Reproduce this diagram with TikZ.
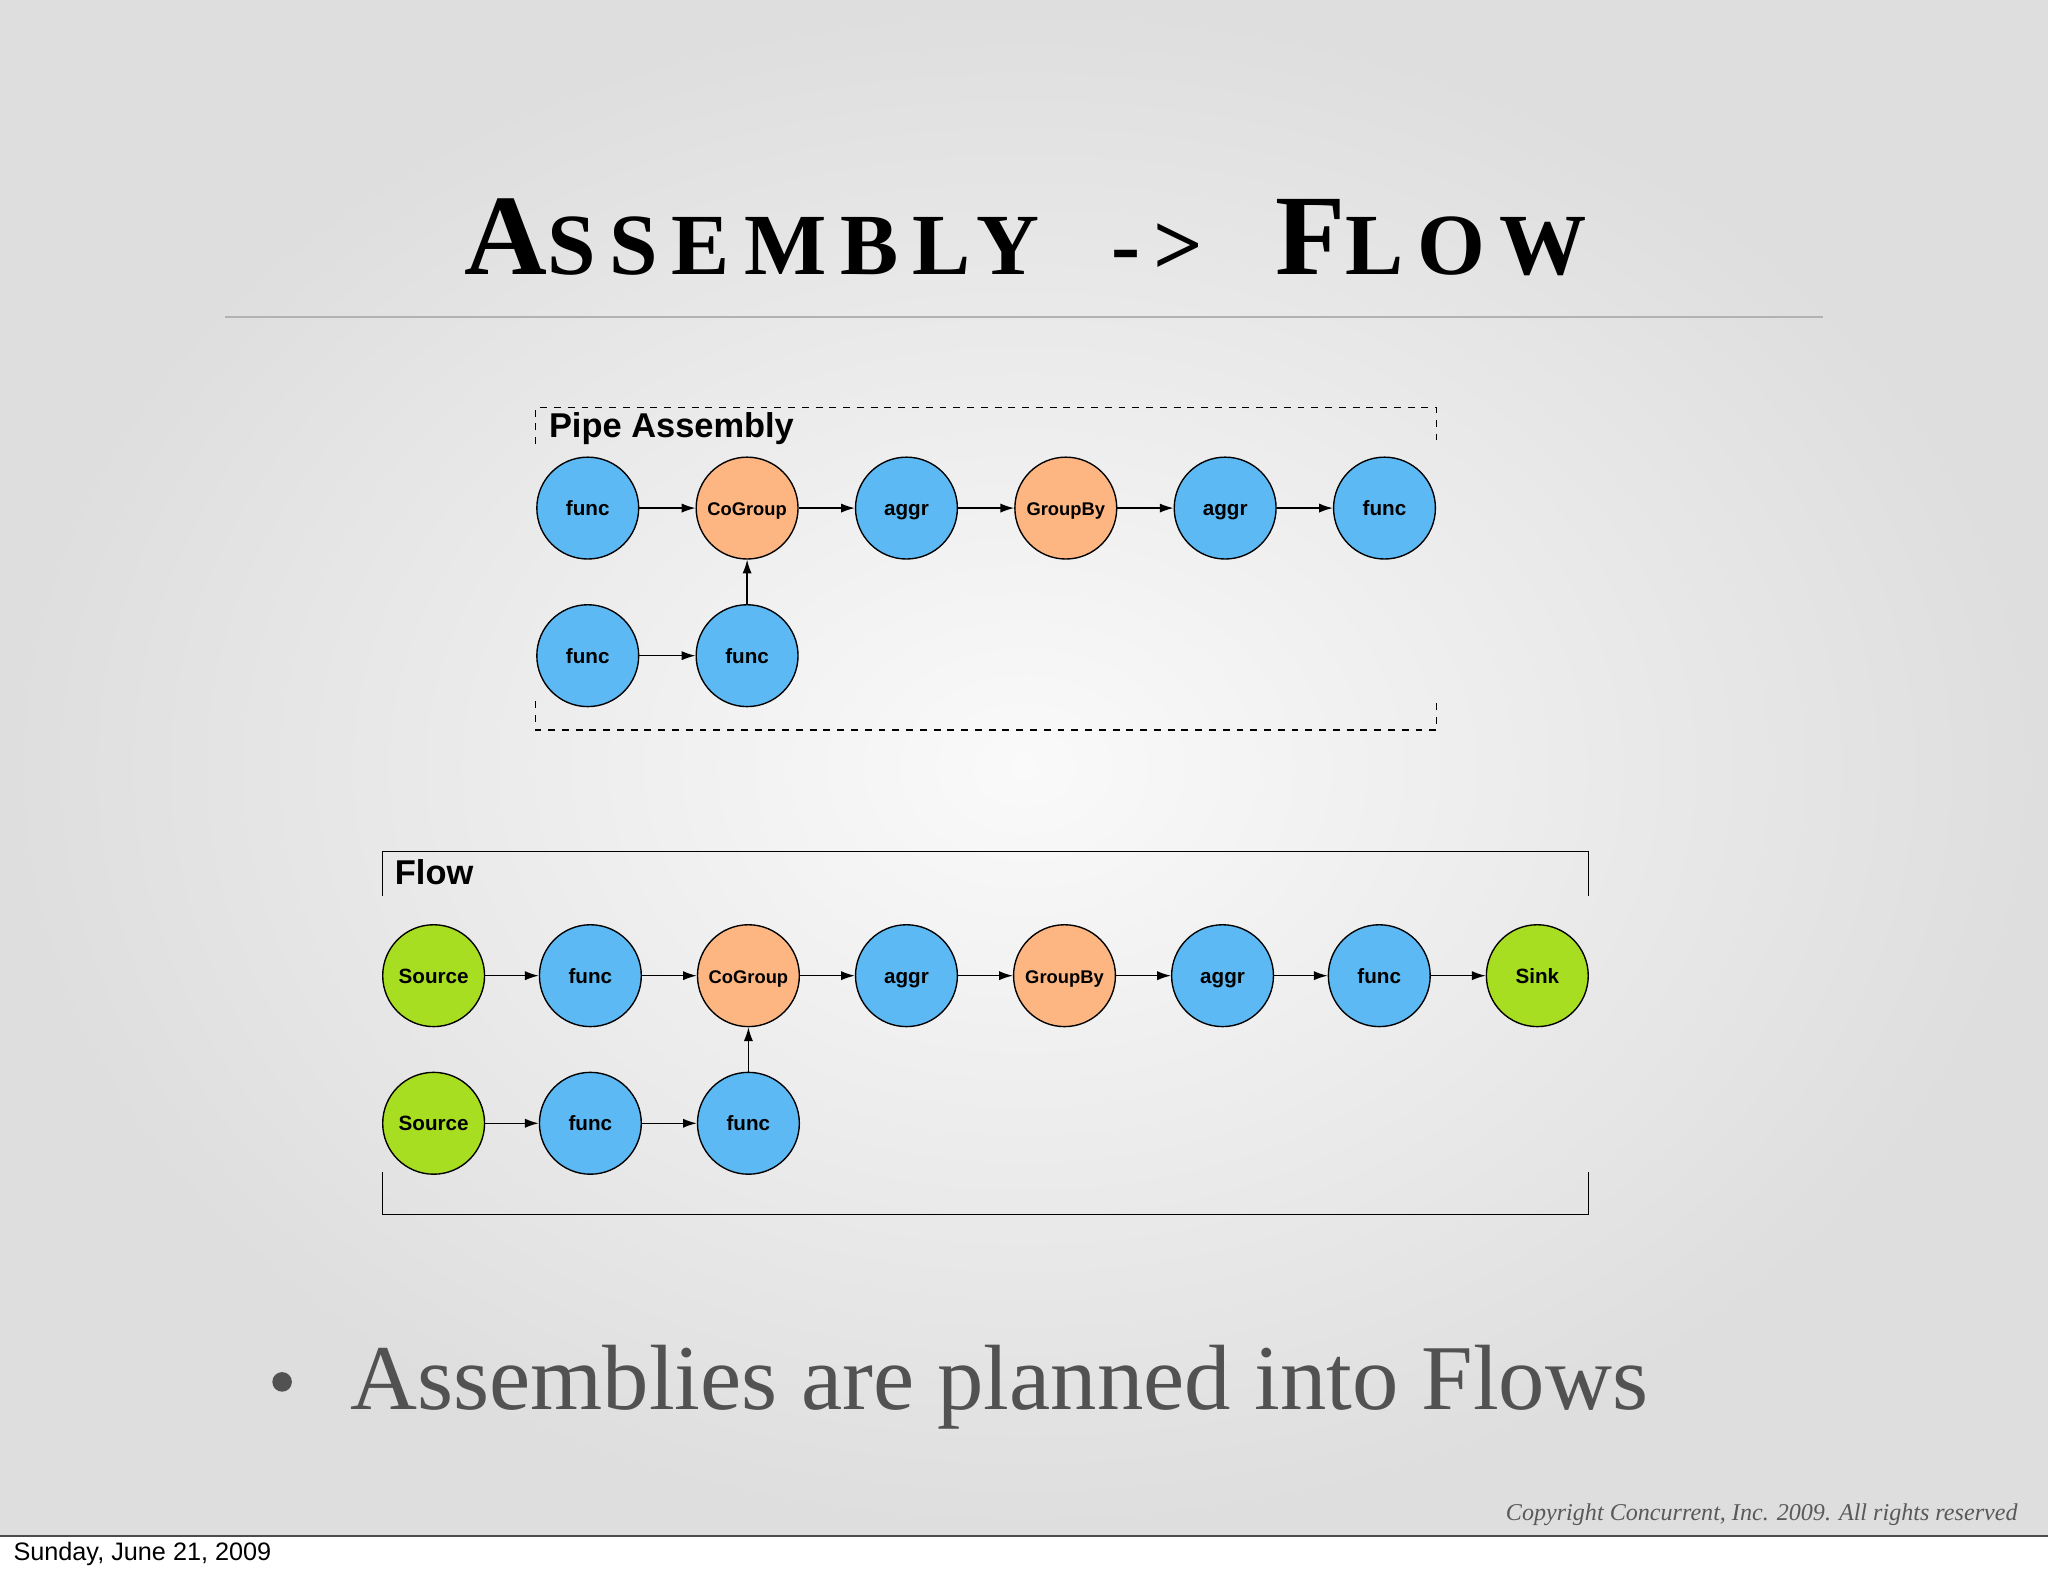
\documentclass[tikz,border=0pt]{standalone}
\usepackage{fontspec}
\setmainfont{Liberation Serif}
\setsansfont{Liberation Sans}
\usetikzlibrary{arrows.meta}
\definecolor{cblue}{HTML}{5DB9F4}
\definecolor{corange}{HTML}{FDB682}
\definecolor{cgreen}{HTML}{A8DE22}
\tikzset{x=0.02cm,y=-0.02cm,
 op/.style={circle,draw=black,line width=0.6pt,minimum size=1.56cm,inner sep=0pt,text height=1.6ex,text depth=0.2ex,font=\sffamily\bfseries\fontsize{9}{11}\selectfont},
 fn/.style={op,fill=cblue},
 gr/.style={op,fill=corange,font=\sffamily\bfseries\fontsize{8}{10}\selectfont},
 src/.style={op,fill=cgreen},
 ar/.style={-{Latex[length=6pt,width=4pt]},line width=0.6pt},
 lbl/.style={anchor=west,font=\sffamily\bfseries\fontsize{15}{18}\selectfont,inner sep=0pt}}
\begin{document}
\begin{tikzpicture}
\useasboundingbox (0,0) rectangle (1568,1206);
\fill[white] (0,0) rectangle (1568,1206);
\shade[inner color=white!96!gray,outer color=black!13] (0,0) rectangle (1568,1176);
\draw[black!70,line width=0.6pt] (0,1176) -- (1568,1176);
\node[anchor=west,font=\sffamily\fontsize{11}{13}\selectfont,inner sep=0pt] (date) at (10,1190) {Sunday, June 21, 2009};
\node[font=\bfseries,inner sep=0pt] (title) at (785,182) {\addfontfeature{LetterSpace=16}\fontsize{50}{56}\selectfont A\fontsize{38}{44}\selectfont SSEMBLY\ \ -{>}\ \ \fontsize{50}{56}\selectfont F\fontsize{38}{44}\selectfont LOW};
\draw[black!30,line width=0.8pt] (172,243) -- (1396,243);
% pipe assembly box
\draw[dashed,line width=0.6pt] (410,340) -- (410,312) -- (1100,312) -- (1100,340);
\draw[dashed,line width=0.6pt] (410,537) -- (410,559) -- (1100,559) -- (1100,537);
\node[lbl] (pa) at (420,328) {Pipe Assembly};
\node[fn] (a1) at (450,389) {func};
\node[gr] (a2) at (572,389) {CoGroup};
\node[fn] (a3) at (694,389) {aggr};
\node[gr] (a4) at (816,389) {GroupBy};
\node[fn] (a5) at (938,389) {aggr};
\node[fn] (a6) at (1060,389) {func};
\node[fn] (b1) at (450,502) {func};
\node[fn] (b2) at (572,502) {func};
\draw[ar] (a1)--(a2); \draw[ar] (a2)--(a3); \draw[ar] (a3)--(a4); \draw[ar] (a4)--(a5); \draw[ar] (a5)--(a6);
\draw[ar] (b1)--(b2); \draw[ar] (b2)--(a2);
% flow box
\draw[line width=0.6pt] (293,686) -- (293,652) -- (1216,652) -- (1216,686);
\draw[line width=0.6pt] (293,897) -- (293,930) -- (1216,930) -- (1216,897);
\node[lbl] (fl) at (302,668) {Flow};
\node[src] (f1) at (332,747) {Source};
\node[fn] (f2) at (452,747) {func};
\node[gr] (f3) at (573,747) {CoGroup};
\node[fn] (f4) at (694,747) {aggr};
\node[gr] (f5) at (815,747) {GroupBy};
\node[fn] (f6) at (936,747) {aggr};
\node[fn] (f7) at (1056,747) {func};
\node[src] (f8) at (1177,747) {Sink};
\node[src] (g1) at (332,860) {Source};
\node[fn] (g2) at (452,860) {func};
\node[fn] (g3) at (573,860) {func};
\foreach \p/\q in {f1/f2,f2/f3,f3/f4,f4/f5,f5/f6,f6/f7,f7/f8,g1/g2,g2/g3,g3/f3} \draw[ar] (\p)--(\q);
\node[anchor=west,text=black!68,font=\fontsize{40.4}{48}\selectfont,inner sep=0pt] (bul) at (268,1062) {Assemblies are planned into Flows};
\node[circle,fill=black!68,minimum size=0.3cm,inner sep=0pt] (dot) at (216,1058) {};
\node[anchor=east,text=black!65,font=\itshape\fontsize{10.5}{13}\selectfont,inner sep=0pt] (copy) at (1545,1160) {Copyright Concurrent, Inc. 2009. All rights reserved};
\end{tikzpicture}
\end{document}
